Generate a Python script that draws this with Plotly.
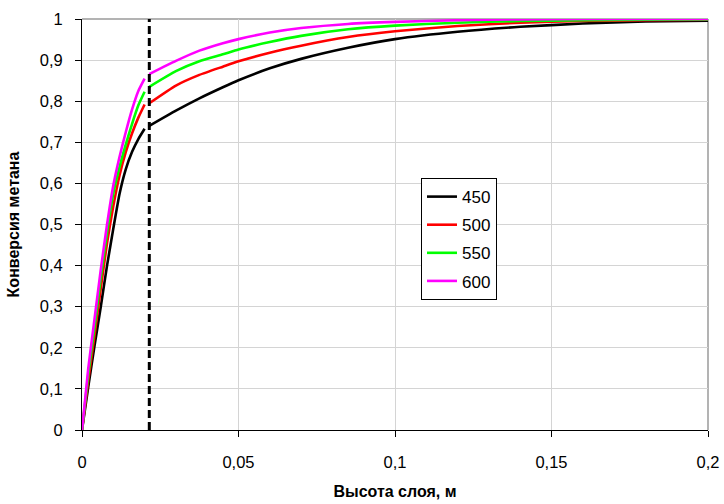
import plotly.graph_objects as go

# Bed height, m: first zone (up to the boundary) and the rest of the layer
height_zone1 = [0, 0.002, 0.004, 0.006, 0.008, 0.010, 0.012, 0.014, 0.016, 0.018, 0.020]
height_zone2 = [0.0215, 0.03, 0.0375, 0.045, 0.05, 0.06, 0.07, 0.085, 0.1, 0.12, 0.14, 0.16, 0.18, 0.2]
boundary_height = 0.0215

temperatures = ["450", "500", "550", "600"]
colors = ["#000000", "#ff0000", "#00ff00", "#ff00ff"]

# Methane conversion
conv_450_zone1 = [0, 0.105, 0.205, 0.30, 0.40, 0.49, 0.575, 0.635, 0.677, 0.708, 0.733]
conv_500_zone1 = [0, 0.12, 0.23, 0.345, 0.455, 0.545, 0.62, 0.677, 0.722, 0.76, 0.792]
conv_550_zone1 = [0, 0.135, 0.25, 0.37, 0.48, 0.575, 0.64, 0.695, 0.745, 0.79, 0.823]
conv_600_zone1 = [0, 0.15, 0.27, 0.39, 0.50, 0.595, 0.665, 0.725, 0.78, 0.825, 0.855]

conv_450_zone2 = [0.74, 0.777, 0.807, 0.834, 0.851, 0.880, 0.903, 0.930, 0.951, 0.969, 0.981, 0.989, 0.994, 0.996]
conv_500_zone2 = [0.795, 0.838, 0.864, 0.884, 0.897, 0.918, 0.935, 0.956, 0.970, 0.983, 0.991, 0.995, 0.997, 0.998]
conv_550_zone2 = [0.835, 0.873, 0.897, 0.914, 0.926, 0.944, 0.959, 0.975, 0.984, 0.991, 0.995, 0.997, 0.998, 0.999]
conv_600_zone2 = [0.866, 0.898, 0.923, 0.941, 0.951, 0.967, 0.978, 0.988, 0.993, 0.997, 0.999, 1.0, 1.0, 1.0]

zone1 = [conv_450_zone1, conv_500_zone1, conv_550_zone1, conv_600_zone1]
zone2 = [conv_450_zone2, conv_500_zone2, conv_550_zone2, conv_600_zone2]

FONT = "Liberation Sans, Arial, sans-serif"

fig = go.Figure()

for name, color, y1, y2 in zip(temperatures, colors, zone1, zone2):
    fig.add_trace(go.Scatter(
        x=height_zone1 + [None] + height_zone2,
        y=y1 + [None] + y2,
        mode="lines",
        name=name,
        legendgroup=name,
        connectgaps=False,
        line=dict(color=color, width=2.6, shape="spline", smoothing=0.5),
    ))

# Boundary between the zones
fig.add_trace(go.Scatter(
    x=[boundary_height, boundary_height],
    y=[0, 1],
    mode="lines",
    showlegend=False,
    line=dict(color="#000000", width=3, dash="8px,4px"),
))

axis_common = dict(
    showgrid=True,
    gridcolor="#d4d4d4",
    gridwidth=1,
    zeroline=False,
    showline=True,
    linecolor="#000000",
    linewidth=1,
    ticks="outside",
    ticklen=6,
    tickcolor="#000000",
    automargin=False,
    tickfont=dict(family=FONT, size=16.5, color="#000000"),
)

fig.update_layout(
    width=724,
    height=504,
    margin=dict(l=82, r=16, t=19, b=74),
    paper_bgcolor="#ffffff",
    plot_bgcolor="#ffffff",
    separators=", ",
    font=dict(family=FONT, size=16, color="#000000"),
    xaxis=dict(
        range=[0, 0.2],
        dtick=0.05,
        ticklabelstandoff=11,
        title=dict(text="<b>Высота слоя, м</b>", font=dict(family=FONT, size=16), standoff=16),
        **axis_common,
    ),
    yaxis=dict(
        range=[0, 1],
        dtick=0.1,
        ticklabelstandoff=9,
        title=dict(text="<b>Конверсия метана</b>", font=dict(family=FONT, size=16), standoff=16),
        **axis_common,
    ),
    legend=dict(
        x=0.5415, y=0.613, xanchor="left", yanchor="top",
        bgcolor="#ffffff",
        bordercolor="#000000",
        borderwidth=1,
        font=dict(family=FONT, size=17, color="#000000"),
        tracegroupgap=3,
        itemwidth=30,
    ),
    shapes=[
        dict(type="line", xref="paper", yref="paper", x0=0, x1=1, y0=1, y1=1,
             line=dict(color="#9a9a9a", width=1.5), layer="below"),
        dict(type="line", xref="paper", yref="paper", x0=1, x1=1, y0=0, y1=1,
             line=dict(color="#9a9a9a", width=1.5), layer="below"),
    ],
)

fig.write_html("out.html")
